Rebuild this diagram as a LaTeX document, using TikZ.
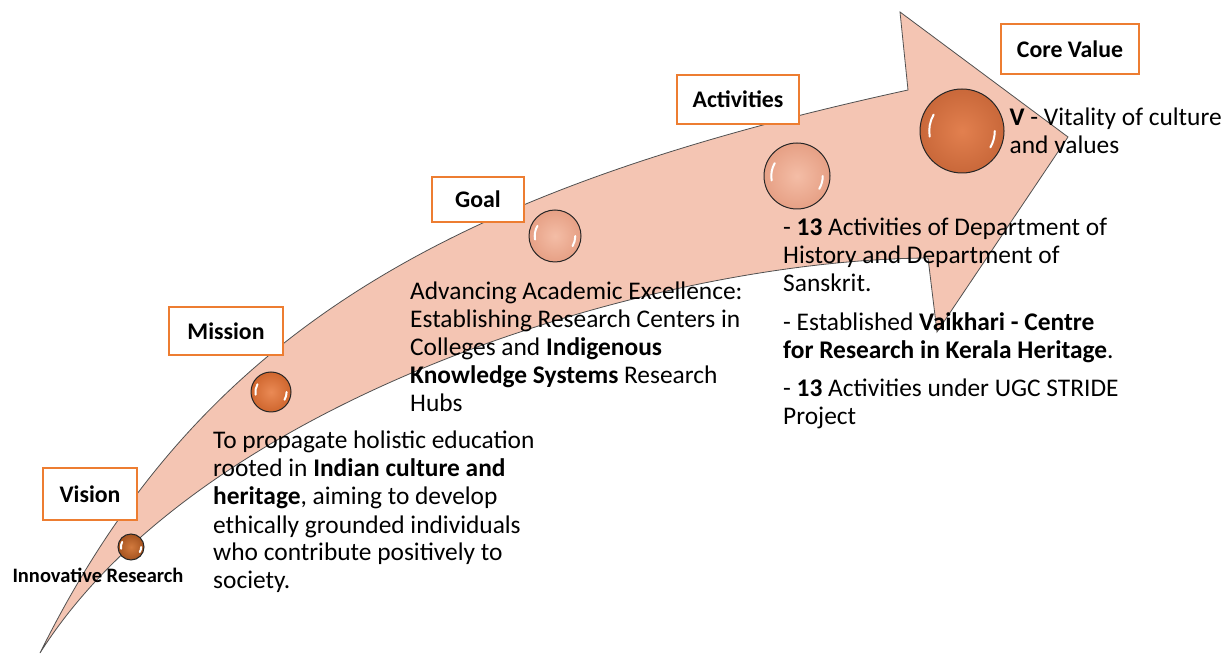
\documentclass[tikz,border=0pt]{standalone}
\usepackage{fontspec}
\setmainfont{Carlito}
\usepackage{tikz}
\usetikzlibrary{positioning}
\definecolor{tagorange}{HTML}{ED7D31}
\definecolor{bandfill}{HTML}{F4C5B3}
\definecolor{bandedge}{HTML}{505050}
\definecolor{rustin}{HTML}{D27A3E}
\definecolor{rustout}{HTML}{A5531F}
\definecolor{amberin}{HTML}{EA8A55}
\definecolor{amberout}{HTML}{CF662E}
\definecolor{peachin}{HTML}{F4BDA6}
\definecolor{peachout}{HTML}{E6A085}
\definecolor{corein}{HTML}{E2804F}
\definecolor{coreout}{HTML}{C9683A}
\tikzset{
  tag/.style={draw=tagorange, line width=1.5pt, fill=white, inner sep=0pt, font=\fontsize{23.8}{28}\selectfont\bfseries},
  orb/.style={circle, draw=black!85, line width=1pt, inner sep=0pt},
  glint/.style={white, line width=2pt, line cap=round},
  blurb/.style={font=\fontsize{25.4}{28}\selectfont, align=left, inner sep=0pt, anchor=base west},
}
\newcommand{\orb}[6]{%
  \node[orb, minimum size=#4*2pt, inner color=#5, outer color=#6] (#1) at (#2,#3) {};
  \draw[glint] (#1.center) ++(150:0.78*#4) arc[start angle=150, end angle=190, radius=0.78*#4];
  \draw[glint] (#1.center) ++(-30:0.78*#4) arc[start angle=-30, end angle=0, radius=0.78*#4];
}

\begin{document}
\begin{tikzpicture}[x=1pt, y=1pt]
\useasboundingbox (0,0) rectangle (1228,653);
\draw[fill=bandfill, draw=bandedge, line width=0.8pt, line join=miter]
  (40,0) .. controls (200,323) and (450,463) .. (908,563) -- (900,641) -- (1068,516)
  -- (937,321) -- (928,395) .. controls (650,393) and (200,253) .. (40,0) -- cycle;

\node[tag, minimum width=94pt, minimum height=52pt] (vision) at (90,159) {Vision};
\node[tag, minimum width=114pt, minimum height=48pt] (mission) at (226,322) {Mission};
\node[tag, minimum width=92pt, minimum height=45pt] (goal) at (478,453.5) {Goal};
\node[tag, minimum width=122pt, minimum height=49pt] (activities) at (738,553.5) {Activities};
\node[tag, minimum width=138pt, minimum height=50pt] (corevalue) at (1070,604) {Core Value};

\orb{ballVision}{131}{106}{13}{rustin}{rustout}
\orb{ballMission}{271}{261}{20}{amberin}{amberout}
\orb{ballGoal}{555}{417}{26}{peachin}{peachout}
\orb{ballActivities}{797}{477}{33}{peachin}{peachout}
\orb{ballCore}{962}{522}{42}{corein}{coreout}

\node[font=\fontsize{20.5}{24}\selectfont\bfseries, inner sep=0pt] (innovative) at (98,78) {Innovative Research};
\node[blurb] (missiontext) at (213,64) {To propagate holistic education\\rooted in \textbf{Indian culture and}\\\textbf{heritage}, aiming to develop\\ethically grounded individuals\\who contribute positively to\\society.};
\node[blurb] (goaltext) at (410,241) {Advancing Academic Excellence:\\Establishing Research Centers in\\Colleges and \textbf{Indigenous}\\\textbf{Knowledge Systems} Research\\Hubs};
\node[blurb] (activitytext) at (783,228) {- \textbf{13} Activities of Department of\\History and Department of\\Sanskrit.\\[11pt]- Established \textbf{Vaikhari - Centre}\\\textbf{for Research in Kerala Heritage}.\\[10pt]- \textbf{13} Activities under UGC STRIDE\\Project};
\node[blurb, anchor=west, right=5pt of ballCore] (coretext) {\textbf{V} - Vitality of culture\\and values};
\end{tikzpicture}
\end{document}
